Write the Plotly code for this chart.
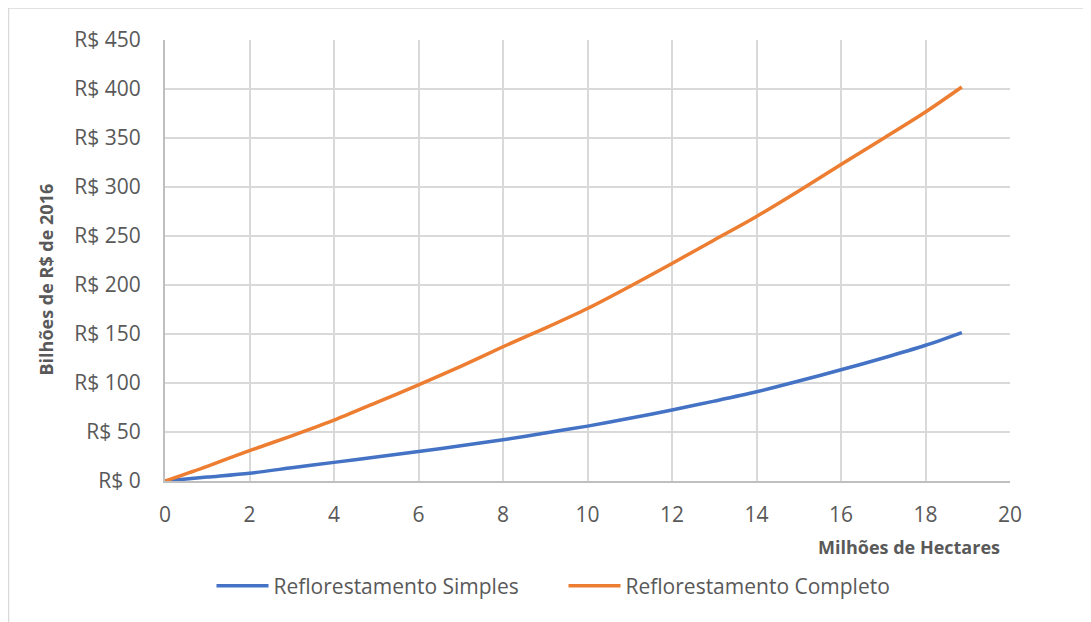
import plotly.graph_objects as go

# Data (millions of hectares vs. billions of R$ 2016)
hectares = [0, 1, 2, 3, 4, 5, 6, 7, 8, 9, 10, 11, 12, 13, 14, 15, 16, 17, 18, 18.86]
simples = [0, 4, 8, 13.5, 19, 24.5, 30, 36, 42, 49, 56, 64, 72.5, 81.5, 91, 102, 113.5, 125.5, 138.5, 151.5]
completo = [0, 15, 31, 46, 62, 80, 98, 117, 137, 156, 176, 198.5, 222, 246, 270, 296, 323, 349.5, 376.5, 402]

series_names = ["Reflorestamento Simples", "Reflorestamento Completo"]
series_colors = ["#4472C4", "#ED7D31"]

x_ticks = [0, 2, 4, 6, 8, 10, 12, 14, 16, 18, 20]
y_ticks = [0, 50, 100, 150, 200, 250, 300, 350, 400, 450]
y_tick_labels = ["R$ " + str(v) for v in y_ticks]

OFF = 8  # page body margin
W, H = 1091 - OFF, 622 - OFF
L, T = 165 - OFF, 40 - OFF
pw, ph = 845, 441
R = W - L - pw
B = H - T - ph

def px_to_paper_x(px):
    return (px - OFF - L) / pw

def px_to_paper_y(py):
    return (T + ph - (py - OFF)) / ph

font_family = "Open Sans"
text_color = "#595959"

fig = go.Figure()
for name, ys, col in zip(series_names, [simples, completo], series_colors):
    fig.add_trace(go.Scatter(
        x=hectares, y=ys, mode="lines", name=name,
        line=dict(color=col, width=3.5, shape="spline", smoothing=0.8),
    ))

fig.update_layout(
    width=W, height=H,
    margin=dict(l=L, r=R, t=T, b=B, autoexpand=False),
    paper_bgcolor="white", plot_bgcolor="white",
    font=dict(family=font_family, size=21, color=text_color),
    showlegend=True,
    legend=dict(
        orientation="h", x=px_to_paper_x(563.5), xanchor="center",
        y=px_to_paper_y(586), yanchor="middle",
        font=dict(family=font_family, size=21, color=text_color),
        itemwidth=52, entrywidth=285, traceorder="normal",
    ),
    xaxis=dict(
        range=[0, 20], tickvals=x_ticks, showgrid=True, gridcolor="#D9D9D9", gridwidth=1.5,
        showline=True, linecolor="#BFBFBF", linewidth=2, zeroline=False,
        ticks="", ticklabelstandoff=14,
        tickfont=dict(family=font_family, size=21, color=text_color),
    ),
    yaxis=dict(
        range=[0, 450], tickmode="array", tickvals=y_ticks, ticktext=y_tick_labels,
        showgrid=True, gridcolor="#D9D9D9", gridwidth=1.5,
        showline=True, linecolor="#BFBFBF", linewidth=2, zeroline=False,
        ticks="", ticklabelstandoff=18,
        tickfont=dict(family=font_family, size=21, color=text_color),
    ),
    annotations=[
        dict(text="<b>Bilhões de R$ de 2016</b>", textangle=-90,
             xref="paper", yref="paper", x=px_to_paper_x(45), y=px_to_paper_y(279.5),
             xanchor="center", yanchor="middle", showarrow=False,
             font=dict(family=font_family, size=18, color=text_color)),
        dict(text="<b>Milhões de Hectares</b>",
             xref="paper", yref="paper", x=px_to_paper_x(1002), y=px_to_paper_y(547),
             xanchor="right", yanchor="middle", showarrow=False,
             font=dict(family=font_family, size=18, color=text_color)),
    ],
    shapes=[
        dict(type="line", xref="paper", yref="paper",
             x0=px_to_paper_x(8), x1=px_to_paper_x(1200),
             y0=px_to_paper_y(8), y1=px_to_paper_y(8),
             line=dict(color="#D9D9D9", width=1.5)),
        dict(type="line", xref="paper", yref="paper",
             x0=px_to_paper_x(8.5), x1=px_to_paper_x(8.5),
             y0=px_to_paper_y(8), y1=px_to_paper_y(700),
             line=dict(color="#D9D9D9", width=1.5)),
    ],
)

fig.write_html("out.html")
